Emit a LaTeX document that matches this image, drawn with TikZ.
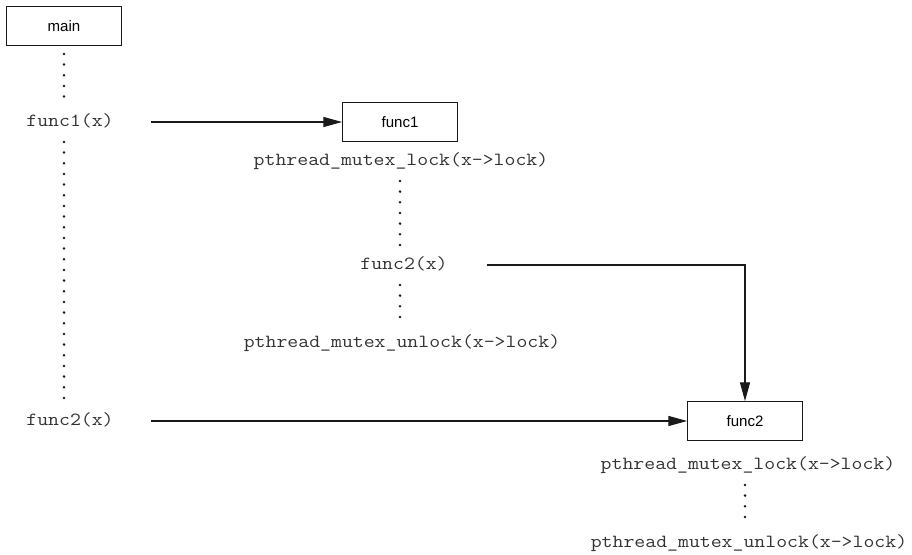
\documentclass[tikz,border=0pt]{standalone}
\usepackage{fontspec}
\setmainfont{Liberation Sans}
\newfontfamily\codefont[FakeStretch=1.143]{Latin Modern Mono}
\usetikzlibrary{arrows.meta}
\begin{document}
\begin{tikzpicture}[x=0.75pt,y=-0.75pt,
  fnbox/.style={draw=black!90,line width=0.9pt,minimum width=86pt,minimum height=29pt,inner sep=0pt,font=\fontsize{11.3pt}{13pt}\selectfont},
  code/.style={inner sep=0pt,text=black!80,font=\codefont\fontsize{13.9pt}{15pt}\selectfont,text height=9pt,text depth=2.5pt},
  dots/.style={black!90,line width=2.1pt,line cap=round,dash pattern=on 0pt off 8pt},
  call/.style={black!90,line width=0.8pt,-{Triangle[length=14pt,width=7.5pt]}}]
\useasboundingbox (0,0) rectangle (912,555);
\node[fnbox] (main) at (64,26) {main};
\node[code] (f1call) at (70,122) {func1(x)};
\node[code] (f2call) at (70,421) {func2(x)};
\node[fnbox] (func1) at (400,122) {func1};
\node[code] (lock1) at (401,161) {pthread\_mutex\_lock(x->lock)};
\node[code] (f2inner) at (404,265) {func2(x)};
\node[code] (unlock1) at (402,343) {pthread\_mutex\_unlock(x->lock)};
\node[fnbox] (func2) at (745,421) {func2};
\node[code] (lock2) at (748,465) {pthread\_mutex\_lock(x->lock)};
\node[code] (unlock2) at (749,543) {pthread\_mutex\_unlock(x->lock)};
% dotted sequences
\draw[dots] ([yshift=-6pt]main.south) -- ([yshift=9pt]main.south |- f1call.north);
\draw[dots] ([yshift=-9pt]main.south |- f1call.south) -- ([yshift=9pt]main.south |- f2call.north);
\draw[dots] ([yshift=-9pt]func1.south |- lock1.south) -- ([yshift=9pt]func1.south |- f2inner.north);
\draw[dots] ([yshift=-9pt]func1.south |- f2inner.south) -- ([yshift=9pt]func1.south |- unlock1.north);
\draw[dots] ([yshift=-9pt]func2.south |- lock2.south) -- ([yshift=9pt]func2.south |- unlock2.north);
% calls
\draw[call] ([xshift=28pt]f1call.east) -- (func1.west);
\draw[call] ([xshift=28pt]f2call.east) -- (func2.west);
\draw[call] ([xshift=29pt]f2inner.east) -| (func2.north);
\end{tikzpicture}
\end{document}
